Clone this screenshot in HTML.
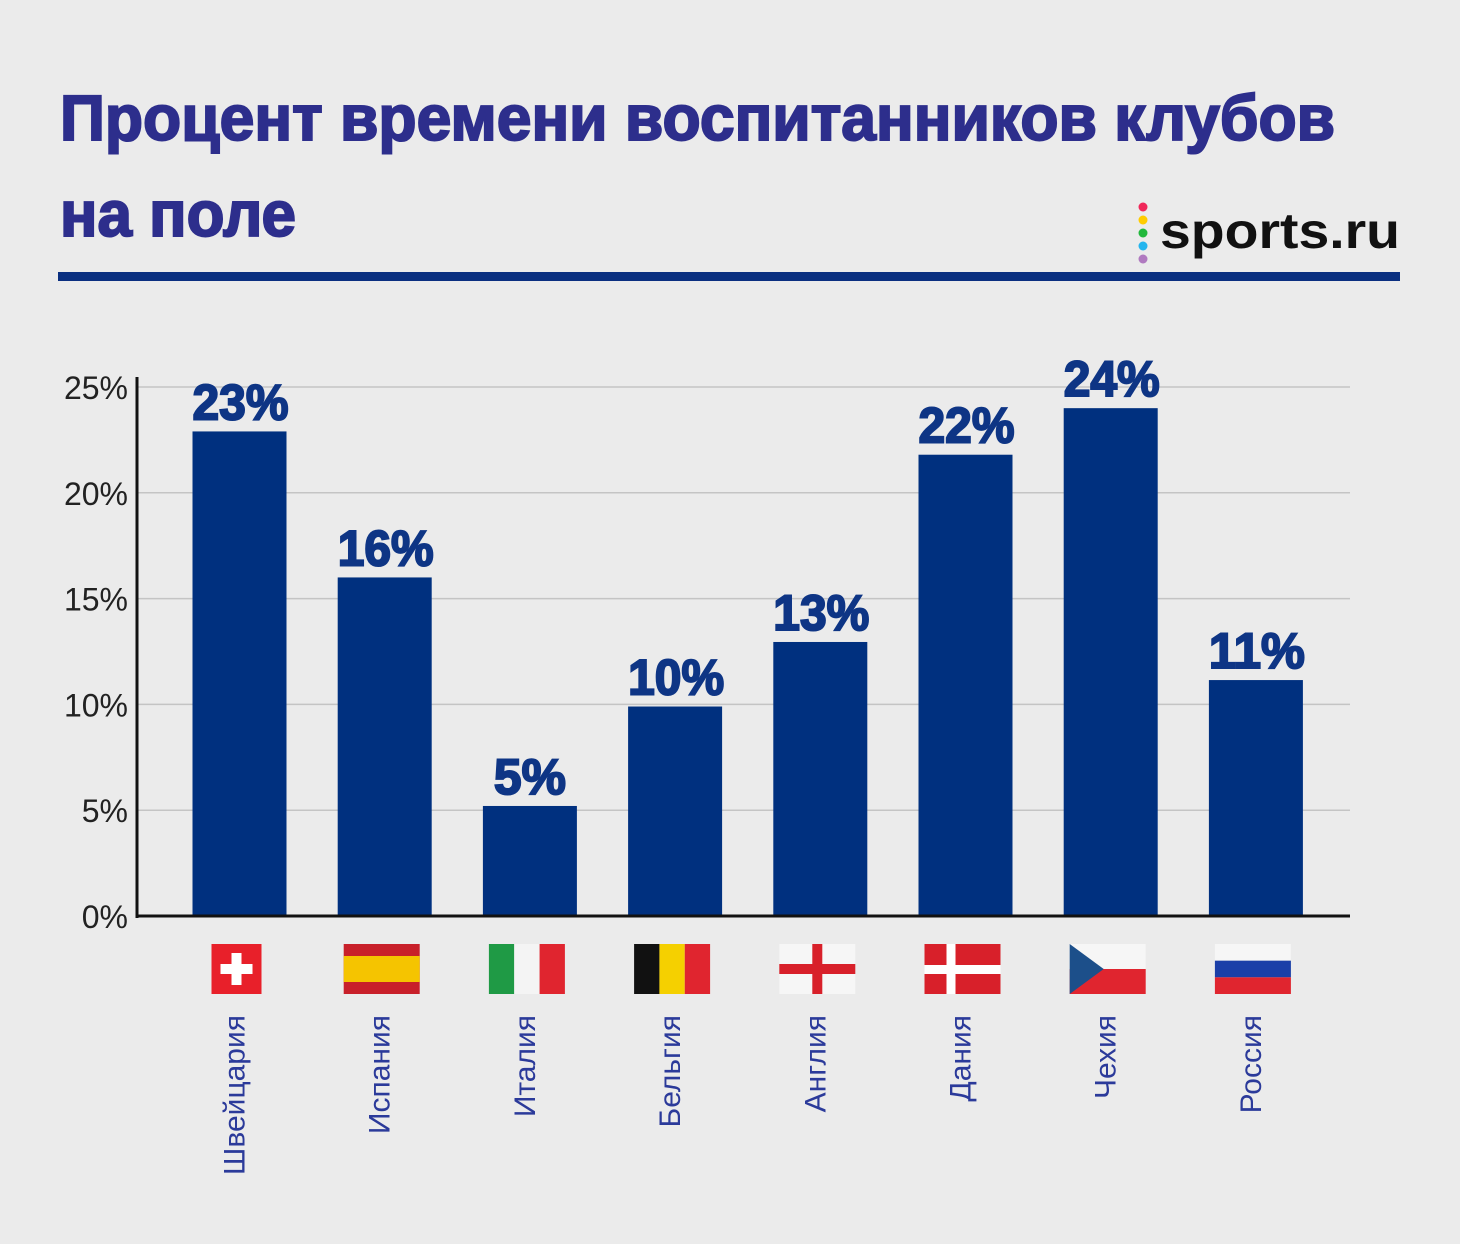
<!DOCTYPE html>
<html><head><meta charset="utf-8"><style>
html,body{margin:0;padding:0;background:#ebebeb;}
svg{display:block;font-family:"Liberation Sans",sans-serif;}
</style></head><body>
<svg id="chart" width="1460" height="1244" viewBox="0 0 1460 1244">
<rect width="1460" height="1244" fill="#ebebeb"/>
<text x="60" y="140" font-size="64" font-weight="bold" fill="#2d2e8c" stroke="#2d2e8c" stroke-width="2" textLength="1275" lengthAdjust="spacingAndGlyphs">Процент времени воспитанников клубов</text>
<text x="60" y="236" font-size="64" font-weight="bold" fill="#2d2e8c" stroke="#2d2e8c" stroke-width="2" textLength="236" lengthAdjust="spacingAndGlyphs">на поле</text>
<g>
<circle cx="1143" cy="207" r="4.5" fill="#f0285a"/>
<circle cx="1143" cy="220" r="4.5" fill="#ffcc00"/>
<circle cx="1143" cy="233" r="4.5" fill="#22b83c"/>
<circle cx="1143" cy="246" r="4.5" fill="#25b5ee"/>
<circle cx="1143" cy="259" r="4.5" fill="#b07ac0"/>
<text x="1160" y="248" font-size="50" font-weight="bold" fill="#111" textLength="240" lengthAdjust="spacingAndGlyphs">sports.ru</text>
</g>
<rect x="58" y="272" width="1342" height="9" fill="#0a2f80"/>
<g id="grid"></g>
<g id="bars"></g>
<g id="labels"></g>
</svg>
<script>
const categories = ["Швейцария","Испания","Италия","Бельгия","Англия","Дания","Чехия","Россия"];
const values = [22.9, 16, 5.2, 9.9, 12.95, 21.8, 24, 11.15];
const valueLabels = ["23%","16%","5%","10%","13%","22%","24%","11%"];
const flags = ["ch","es","it","be","en","dk","cz","ru"];
const ticks = [0,5,10,15,20,25];
const tickLabels = ["0%","5%","10%","15%","20%","25%"];

const NS="http://www.w3.org/2000/svg";
const x0=137, x1=1350, y0=916, yTop=387;
const y = v => y0 - (y0-yTop)*v/25;
const step=145.2, firstC=239.5;
const xc = i => firstC + i*step;
function el(t,a,p){const e=document.createElementNS(NS,t);for(const k in a)e.setAttribute(k,a[k]);p.appendChild(e);return e;}
const grid=document.getElementById('grid'), bars=document.getElementById('bars'), labels=document.getElementById('labels');

ticks.forEach((t,i)=>{
  if(t>0){const g=el('line',{x1:x0,x2:x1,y1:y(t),y2:y(t),stroke:'#c4c4c4','stroke-width':1.5},grid);
  
  }
  const tl=el('text',{x:128,y:y(t)+12,'font-size':32,'text-anchor':'end',fill:'#222'},grid);
  
  
  tl.textContent=tickLabels[i];
});
const ya=el('line',{x1:x0,x2:x0,y1:377,y2:918,stroke:'#111','stroke-width':3},grid);



values.forEach((v,i)=>{
  const cx=xc(i);
  const r=el('rect',{x:cx-47,y:y(v),width:94,height:y0-y(v),fill:'#00307f'},bars);
  
  
  const t=el('text',{x:cx-47,y:y(v)-12,'font-size':50,'font-weight':'bold',fill:'#0e3585',stroke:'#0e3585','stroke-width':2,textLength:valueLabels[i].length>2?96:72,lengthAdjust:'spacingAndGlyphs'},labels);
  if(valueLabels[i].length<=2) t.setAttribute('x',cx-36);
  
  
  t.textContent=valueLabels[i];
  const c=el('text',{transform:`translate(${cx+5},1015) rotate(-90)`,'font-size':30,'text-anchor':'end',fill:'#2b3a9a'},labels);
  
  
  c.textContent=categories[i];
  drawFlag(flags[i],cx-3,969);
});
const xa=el('line',{x1:x0-1,x2:x1,y1:y0,y2:y0,stroke:'#111','stroke-width':3},bars);



function drawFlag(f,cx,cy){
  const g=el('g',{},labels);
  
  
  const w=f==='ch'?50:76,h=50,x=cx-w/2,yy=cy-h/2;
  const R=(a,b,c,d,col)=>el('rect',{x:a,y:b,width:c,height:d,fill:col},g);
  if(f==='ch'){R(x,yy,w,h,'#e8202a');R(cx-5,cy-16,10,32,'#fff');R(cx-16,cy-5,32,10,'#fff');}
  else if(f==='es'){R(x,yy,w,h,'#c8202a');R(x,yy+12,w,26,'#f5c400');}
  else if(f==='it'){R(x,yy,w/3,h,'#1f9a45');R(x+w/3,yy,w/3,h,'#f4f4f4');R(x+2*w/3,yy,w/3,h,'#e0252f');}
  else if(f==='be'){R(x,yy,w/3,h,'#111');R(x+w/3,yy,w/3,h,'#f5d000');R(x+2*w/3,yy,w/3,h,'#e0252f');}
  else if(f==='en'){R(x,yy,w,h,'#f6f6f6');R(cx-5,yy,10,h,'#d8202a');R(x,cy-5,w,10,'#d8202a');}
  else if(f==='dk'){R(x,yy,w,h,'#d8202a');R(x+22,yy,9,h,'#fff');R(x,cy-4,w,9,'#fff');}
  else if(f==='cz'){R(x,yy,w,h/2,'#f6f6f6');R(x,cy,w,h/2,'#e0252f');el('polygon',{points:`${x},${yy} ${x+34},${cy} ${x},${yy+h}`,fill:'#1c4f8a'},g);}
  else if(f==='ru'){R(x,yy,w,h/3,'#f6f6f6');R(x,yy+h/3,w,h/3,'#1b3fa8');R(x,yy+2*h/3,w,h/3,'#e0252f');}
}
</script>
</body></html>
